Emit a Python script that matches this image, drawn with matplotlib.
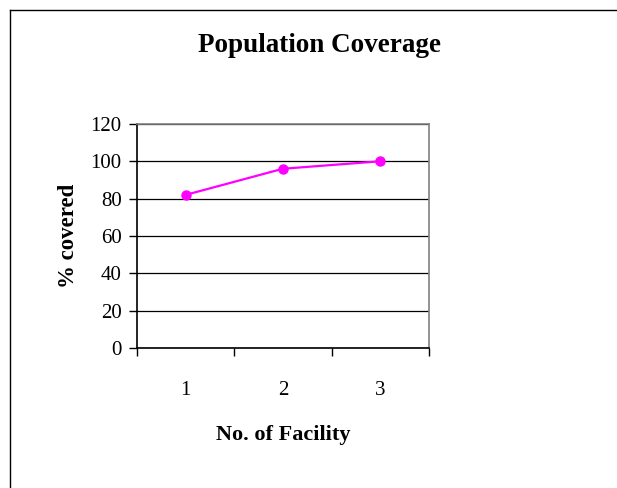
import matplotlib.pyplot as plt
from matplotlib.lines import Line2D

facilities = ["1", "2", "3"]
covered = [82, 96, 100]
y_ticks = [0, 20, 40, 60, 80, 100, 120]

plt.rcParams["font.family"] = ["Liberation Serif", "DejaVu Serif"]

fig = plt.figure(figsize=(6.17, 4.88), dpi=100)
ax = fig.add_axes([0.222, 0.287, 0.473, 0.459])

x = list(range(len(facilities)))
ax.plot(x, covered, color="#ff00ff", linewidth=1.6, marker="o", markersize=6.5, zorder=3)

ax.set_xlim(-0.5, len(facilities) - 0.5)
ax.set_ylim(0, 120)
ax.set_yticks(y_ticks)
ax.set_yticklabels([str(v) for v in y_ticks], fontsize=15)
ax.yaxis.grid(True, color="black", linewidth=0.9)
ax.set_axisbelow(True)

# major ticks between categories, labels on minor ticks at category centres
ax.set_xticks([i - 0.5 for i in range(len(facilities) + 1)])
ax.set_xticklabels([])
ax.set_xticks(x, minor=True)
ax.set_xticklabels(facilities, minor=True, fontsize=15)
ax.tick_params(axis="x", which="minor", length=0, pad=24)
ax.tick_params(axis="x", which="major", direction="out", length=6, width=1)
ax.tick_params(axis="y", direction="out", length=6, width=1, pad=5)

ax.spines["left"].set_color("black")
ax.spines["bottom"].set_color("black")
ax.spines["top"].set_color("#808080")
ax.spines["right"].set_color("#808080")
for s in ax.spines.values():
    s.set_linewidth(1.2)

fig.text(0.518, 0.907, "Population Coverage", ha="center", va="center",
         fontsize=19.5, fontweight="bold")
ax.set_xlabel("No. of Facility", fontsize=16, fontweight="bold", labelpad=18)
ax.set_ylabel("% covered", fontsize=16.5, fontweight="bold", labelpad=8)

# outer frame lines (top and left)
fig.add_artist(Line2D([10 / 617, 1], [1 - 10 / 488] * 2, color="black", linewidth=1, transform=fig.transFigure))
fig.add_artist(Line2D([10 / 617] * 2, [0, 1 - 10 / 488], color="black", linewidth=1, transform=fig.transFigure))

fig.savefig("out.png", dpi=100)
